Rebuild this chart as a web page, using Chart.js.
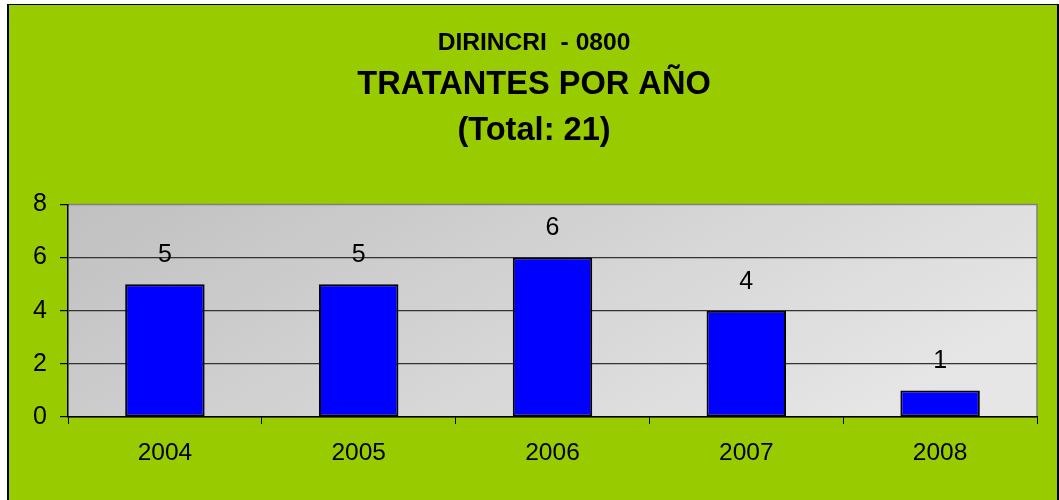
<!DOCTYPE html>
<html>
<head>
    <meta charset="utf-8">
    <title>Tratantes por año</title>
    <style>
        body { margin: 0; background: #fff; }
        #marco {
            position: absolute; left: 7px; top: 4px;
            width: 1048px; height: 500px;
            background: #99CC00;
            border-left: 2px solid #000; border-top: 1px solid #000; border-right: 2px solid #000;
        }
        canvas { display: block; }
    </style>
</head>
<body>
    <div id="marco">
        <canvas id="grafico" width="1048" height="495"></canvas>
    </div>

    <script src="https://cdn.jsdelivr.net/npm/chart.js@4.4.0/dist/chart.umd.min.js"></script>
    <script>
        // datos
        var anos = ['2004', '2005', '2006', '2007', '2008'];
        var tratantes = [5, 5, 6, 4, 1];
        var titulo = 'DIRINCRI  - 0800';
        var subtitulo = ['TRATANTES POR AÑO', '(Total: 21)'];

        var fuente = '"Liberation Sans", Arial, sans-serif';

        // fondo gris degradado del area del grafico
        var fondoArea = {
            id: 'fondoArea',
            beforeDraw: function(chart) {
                var a = chart.chartArea, ctx = chart.ctx;
                var g = ctx.createLinearGradient(a.left, a.top, a.left + 300, a.bottom + 300);
                g.addColorStop(0, '#c0c0c0');
                g.addColorStop(1, '#e6e6e6');
                ctx.save();
                ctx.fillStyle = g;
                ctx.fillRect(a.left, a.top, a.right - a.left, a.bottom - a.top);
                ctx.strokeStyle = '#808080';
                ctx.lineWidth = 1.5;
                ctx.beginPath();
                ctx.moveTo(a.left, a.top);
                ctx.lineTo(a.right, a.top);
                ctx.lineTo(a.right, a.bottom);
                ctx.stroke();
                ctx.restore();
            }
        };

        // numeros encima de las barras
        var etiquetas = {
            id: 'etiquetas',
            afterDatasetsDraw: function(chart) {
                var ctx = chart.ctx;
                var meta = chart.getDatasetMeta(0);
                ctx.save();
                ctx.font = '25px ' + fuente;
                ctx.fillStyle = '#000';
                ctx.textAlign = 'center';
                ctx.textBaseline = 'middle';
                meta.data.forEach(function(barra, i) {
                    ctx.fillText(String(chart.data.datasets[0].data[i]), barra.x, barra.y - 29);
                });
                ctx.restore();
            }
        };

        var ctx = document.getElementById('grafico');
        var chartGraph = new Chart(ctx, {
            type: 'bar',
            data: {
                labels: anos,
                datasets: [{
                    label: 'Tratantes',
                    data: tratantes,
                    backgroundColor: '#0000FF',
                    borderColor: '#000',
                    borderWidth: 2,
                    borderSkipped: false,
                    barPercentage: 0.41,
                    categoryPercentage: 1
                }]
            },
            options: {
                responsive: false,
                animation: false,
                layout: { padding: { left: 22, right: 20, top: 0, bottom: 0 } },
                plugins: {
                    legend: { display: false },
                    tooltip: { enabled: false },
                    title: {
                        display: true,
                        text: titulo,
                        color: '#000',
                        font: { family: fuente, size: 24.6, weight: 'bold', lineHeight: 1.2 },
                        padding: { top: 23, bottom: 5 }
                    },
                    subtitle: {
                        display: true,
                        text: subtitulo,
                        color: '#000',
                        font: { family: fuente, size: 32.6, weight: 'bold', lineHeight: 1.41 },
                        padding: { top: 0, bottom: 50 }
                    }
                },
                scales: {
                    x: {
                        afterFit: function(s) { s.height = 83; },
                        grid: { drawOnChartArea: false, tickLength: 7, tickColor: '#000' },
                        border: { color: '#000', width: 1.5 },
                        ticks: { color: '#000', padding: 15, font: { family: fuente, size: 24.5 } }
                    },
                    y: {
                        min: 0,
                        max: 8,
                        afterFit: function(s) { s.width = 37; },
                        grid: {
                            color: function(c) { return c.tick && c.tick.value === 8 ? 'rgba(0,0,0,0)' : '#333'; },
                            lineWidth: 1.2,
                            tickLength: 8,
                            tickColor: '#000'
                        },
                        border: { color: '#000', width: 1.5 },
                        ticks: { stepSize: 2, color: '#000', padding: 13, font: { family: fuente, size: 25 } }
                    }
                }
            },
            plugins: [fondoArea, etiquetas]
        });
    </script>
</body>
</html>
